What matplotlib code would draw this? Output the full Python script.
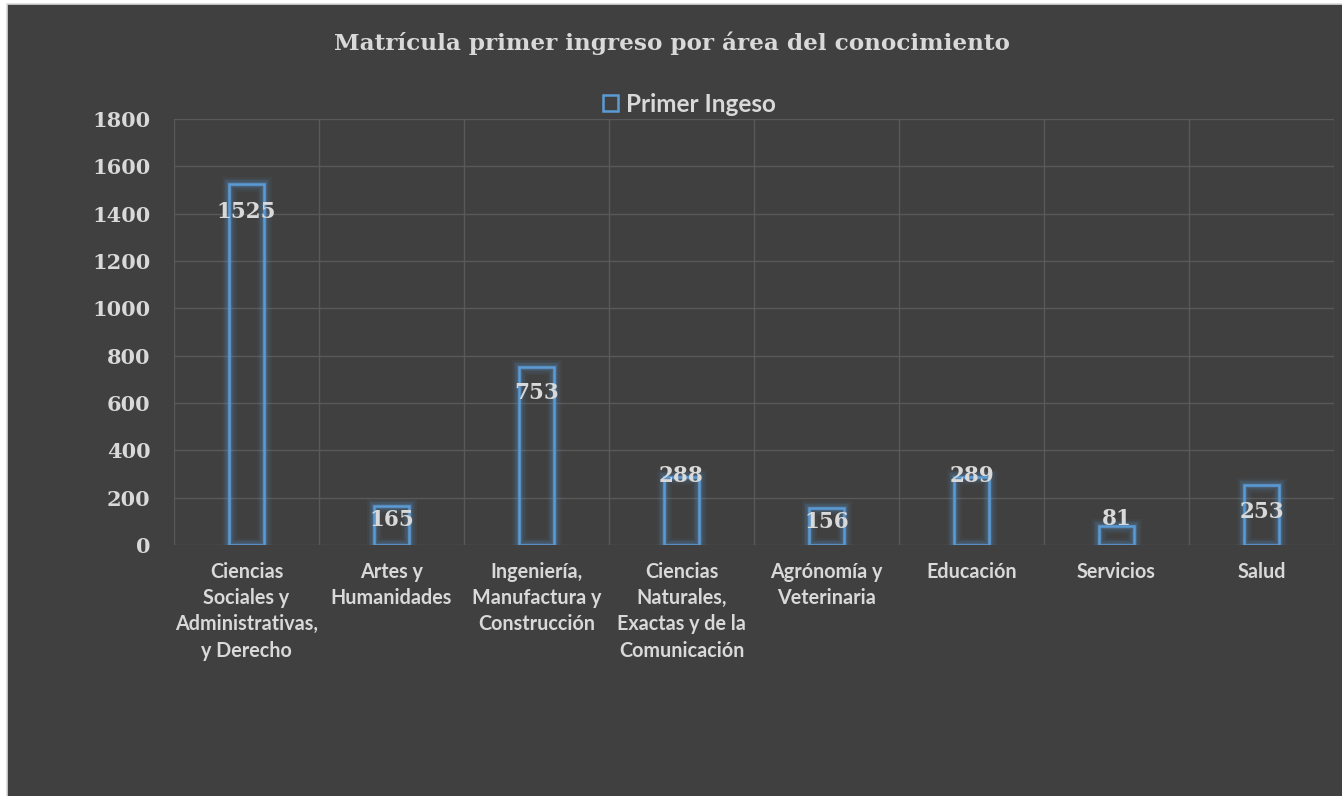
import matplotlib.pyplot as plt
from matplotlib.patches import Rectangle

# datos
categorias = ['Ciencias\nSociales y\nAdministrativas,\ny Derecho',
              'Artes y\nHumanidades',
              'Ingeniería,\nManufactura y\nConstrucción',
              'Ciencias\nNaturales,\nExactas y de la\nComunicación',
              'Agrónomía y\nVeterinaria',
              'Educación',
              'Servicios',
              'Salud']
primer_ingreso = [1525, 165, 753, 288, 156, 289, 81, 253]
y_ticks = [0, 200, 400, 600, 800, 1000, 1200, 1400, 1600, 1800]

# desplazamiento de las etiquetas respecto al tope de cada barra (px)
label_off = [-28, -14, -26, 1, -14, 1, 7, -27]

bg = '#404040'
txt = '#d9d9d9'
blue = '#5b9bd5'
grid_c = '#595959'

W, H = 1342, 796
fig = plt.figure(figsize=(W / 100, H / 100), dpi=100, facecolor='white')
# fondo del grafico con borde
fig.patches.append(Rectangle((7 / W, -0.01), 1, 1.01 - 4 / H, transform=fig.transFigure,
                             facecolor=bg, edgecolor='#d9d9d9', lw=1.2, zorder=-10))

ax = fig.add_axes([174 / W, 1 - 545 / H, 1160 / W, 426 / H])
ax.set_facecolor(bg)

x = list(range(len(categorias)))
w = 0.245

# resplandor
for lw, a in [(11, 0.06), (8, 0.09), (5.5, 0.13), (3.5, 0.2)]:
    ax.bar(x, primer_ingreso, width=w, facecolor='none', edgecolor=blue,
           lw=lw, alpha=a, zorder=3)
ax.bar(x, primer_ingreso, width=w, facecolor='none', edgecolor=blue,
       lw=1.8, zorder=4, label='Primer Ingeso')

for xi, v, off in zip(x, primer_ingreso, label_off):
    ax.annotate(str(v), (xi, v), xytext=(0, off), textcoords='offset pixels',
                ha='center', va='center', fontsize=15.5, fontweight='bold',
                family='DejaVu Serif', color=txt, zorder=5)

ax.set_xlim(-0.5, len(categorias) - 0.5)
ax.set_ylim(0, 1800)
ax.set_yticks(y_ticks)
ax.set_yticklabels([str(t) for t in y_ticks], family='DejaVu Serif',
                   fontweight='bold', fontsize=15, color=txt)
ax.set_xticks(x)
ax.set_xticklabels(categorias, family='Lato', fontweight='bold', fontsize=14.2,
                   color=txt, linespacing=1.4, va='top')
ax.set_xticks([i + 0.5 for i in range(-1, len(categorias))], minor=True)
ax.tick_params(axis='both', which='both', length=0)
ax.tick_params(axis='y', pad=17)
ax.tick_params(axis='x', pad=12)
ax.grid(axis='y', which='major', color=grid_c, lw=1, zorder=1)
ax.grid(axis='x', which='minor', color=grid_c, lw=1, zorder=1)
ax.grid(axis='x', which='major', visible=False)
ax.set_axisbelow(True)
for s in ax.spines.values():
    s.set_visible(False)

fig.text(672 / W, 1 - 43 / H, 'Matrícula primer ingreso por área del conocimiento',
         ha='center', va='center', family='DejaVu Serif', fontweight='bold',
         fontsize=16.7, color=txt)

handle = Rectangle((0, 0), 1, 1, facecolor='none', edgecolor=blue, lw=1.8)
fig.legend([handle], ['Primer Ingeso'], loc='center',
           bbox_to_anchor=(689 / W, 1 - 104 / H), frameon=False,
           prop={'family': 'Lato', 'weight': 'bold', 'size': 17.5},
           labelcolor=txt, handlelength=0.65, handleheight=0.65,
           handletextpad=0.3)

fig.savefig('out.png', dpi=100, facecolor=fig.get_facecolor())
